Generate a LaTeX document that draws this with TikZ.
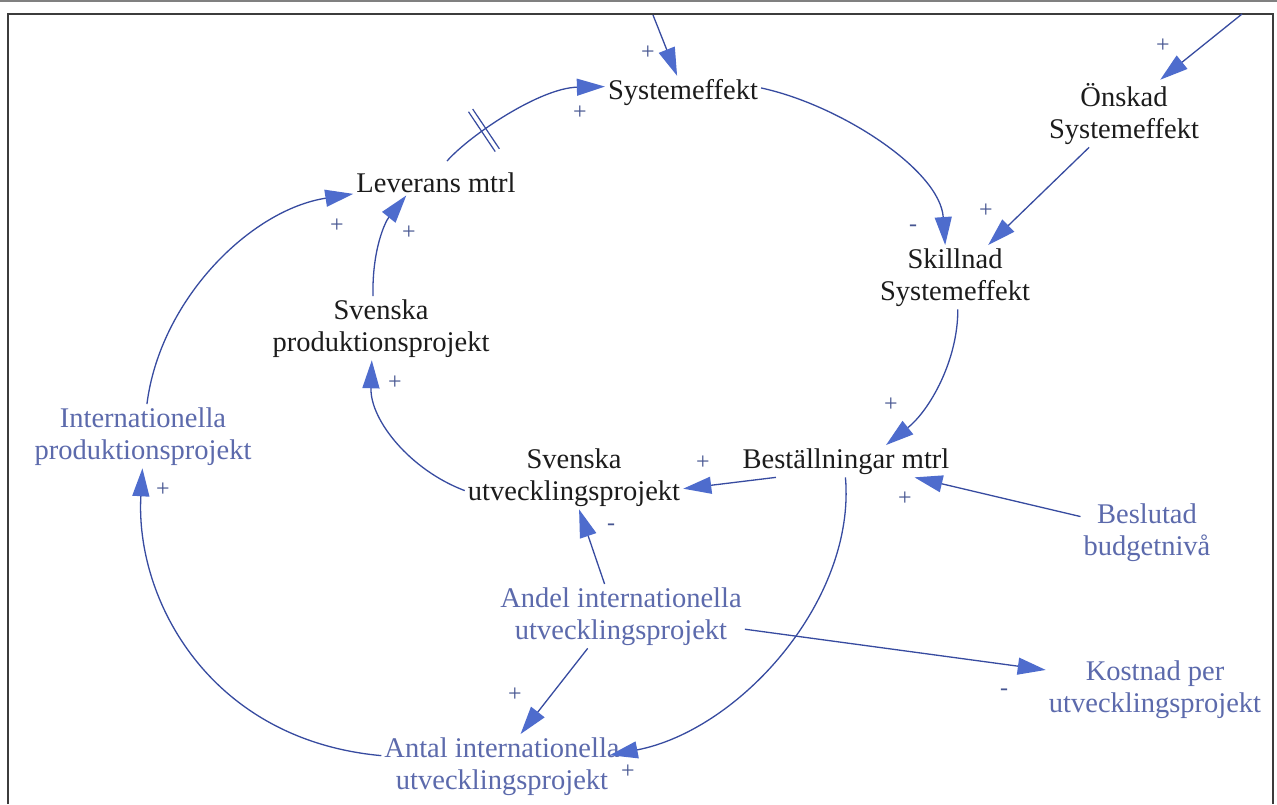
\documentclass[tikz,border=0pt]{standalone}
\usepackage{fontspec}
\setmainfont{Liberation Serif}
\usetikzlibrary{arrows.meta,decorations.markings}
\definecolor{lnc}{RGB}{55,75,160}
\definecolor{hdc}{RGB}{78,108,205}
\definecolor{txb}{RGB}{28,28,28}
\definecolor{txl}{RGB}{92,106,172}
\definecolor{sgncol}{RGB}{70,85,145}
\definecolor{frm}{RGB}{60,60,60}
\begin{document}
\begin{tikzpicture}[x=1pt,y=-1pt,
  var/.style={font=\fontsize{28.5}{32}\selectfont, text=txb, align=center, inner sep=3pt, anchor=base},
  ext/.style={var, text=txl},
  lnk/.style={draw=lnc, line width=1.3pt, -{Triangle[length=28pt,width=17pt,color=hdc]}},
  polar/.style={font=\fontsize{24}{24}\selectfont, text=sgncol, inner sep=0pt},
  delaymark/.style={postaction={decorate, decoration={markings, mark=at position #1 with {\draw[lnc, line width=1.2pt, arrows=-] (-2.5,-24)--(-2.5,24) (2.5,-24)--(2.5,24);}}}},
]
\useasboundingbox (0,0) rectangle (1277,804);
\fill[white] (0,0) rectangle (1277,804);
\draw[frm, line width=1.6pt] (8,804) -- (8,14) -- (1273,14) -- (1273,804);
\draw[gray, line width=1.5pt] (0,0.75) -- (1277,0.75);

% variables (base = baseline of last line)
\node[var] (sys) at (683,99) {Systemeffekt};
\node[var] (lev) at (436,192) {Leverans mtrl};
\node[var] (onsk) at (1124,138) {Önskad\\Systemeffekt};
\node[var] (skl) at (955,300) {Skillnad\\Systemeffekt};
\node[var] (svp) at (381,351) {Svenska\\produktionsprojekt};
\node[ext] (intp) at (143,459) {Internationella\\produktionsprojekt};
\node[var] (svu) at (574,500) {Svenska\\utvecklingsprojekt};
\node[var] (best) at (846,468) {Beställningar mtrl};
\node[ext] (besl) at (1147,555) {Beslutad\\budgetnivå};
\node[ext] (andel) at (621,639) {Andel internationella\\utvecklingsprojekt};
\node[ext] (kost) at (1155,712) {Kostnad per\\utvecklingsprojekt};
\node[ext] (antal) at (502,789) {Antal internationella\\utvecklingsprojekt};

\coordinate (topin) at (653,15);
\coordinate (topright) at (1242,14);

% connectors
\draw[lnk] (topin) -- (sys.110);
\draw[lnk, delaymark=0.27] ([xshift=11pt,yshift=8pt]lev.north) .. controls (470,135) and (540,88) .. (sys.176);
\draw[lnk] (sys.3) .. controls (840,105) and (940,170) .. (skl.107);
\draw[lnk] (topright) -- (onsk.43);
\draw[lnk] (onsk) -- (skl);
\draw[lnk] (skl.-85) .. controls (958,360) and (930,410) .. (best.22);
\draw[lnk] (besl) -- (best);
\draw[lnk] (best.193) -- (svu.-6);
\draw[lnk] (andel.117) -- (svu.-81);
\draw[lnk] (andel.224) -- (antal.60);
\draw[lnk] (andel.-6) -- (kost.170);
\draw[lnk] (best.-92) .. controls (856,600) and (740,730) .. ([xshift=-13pt,yshift=11pt]antal.east);
\draw[lnk] (antal.175) .. controls (210,740) and (135,600) .. (intp.-91);
\draw[lnk] (intp.83) .. controls (160,300) and (250,210) .. (lev.188);
\draw[lnk] (svp.104) .. controls (372,250) and (385,222) .. (lev.204);
\draw[lnk] (svu.187) .. controls (410,470) and (370,420) .. (svp.-106);

% polarity signs
\node[polar] (p1) at (648,53) {+};
\node[polar] (p2) at (580,113) {+};
\node[polar] (p3) at (913,228) {-};
\node[polar] (p4) at (1163,46) {+};
\node[polar] (p5) at (986,211) {+};
\node[polar] (p6) at (891,405) {+};
\node[polar] (p7) at (905,499) {+};
\node[polar] (p8) at (703,463) {+};
\node[polar] (p9) at (611,527) {-};
\node[polar] (p10) at (515,695) {+};
\node[polar] (p11) at (1004,692) {-};
\node[polar] (p12) at (628,772) {+};
\node[polar] (p13) at (163,490) {+};
\node[polar] (p14) at (337,226) {+};
\node[polar] (p15) at (409,233) {+};
\node[polar] (p16) at (395,383) {+};
\end{tikzpicture}
\end{document}
